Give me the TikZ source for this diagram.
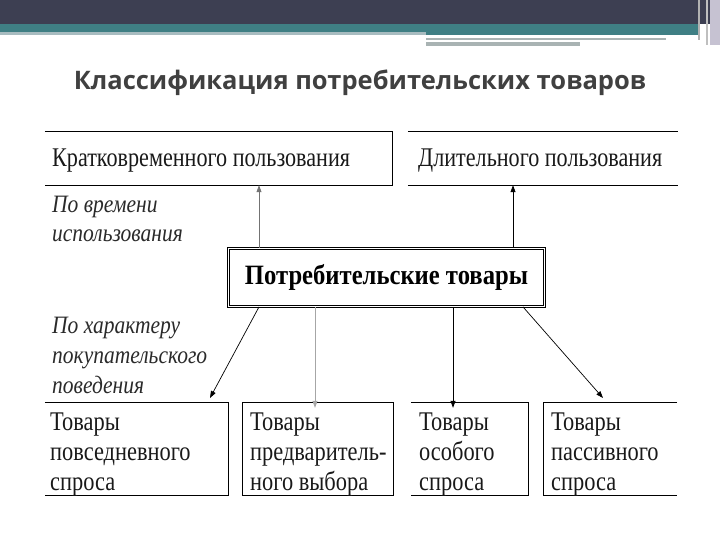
\documentclass[tikz,border=0pt]{standalone}
\usepackage{fontspec}
\setmainfont{Liberation Serif}
\newfontfamily\titlef{Open Sans}
\newfontfamily\bodyf[FakeStretch=0.82]{Liberation Serif}
\newfontfamily\lowf[FakeStretch=0.83]{Liberation Serif}
\newfontfamily\boldf[FakeStretch=0.88]{Liberation Serif}
\newfontfamily\itf[FakeStretch=0.86]{Liberation Serif}
\usetikzlibrary{arrows.meta}
\definecolor{barDark}{HTML}{3D3F52}
\definecolor{barTeal}{HTML}{3F7F84}
\definecolor{barLine}{HTML}{A8BCC0}
\definecolor{barGrey}{HTML}{A9B3B3}
\definecolor{barLav}{HTML}{C6C2D2}
\definecolor{titleC}{HTML}{404040}
\definecolor{labC}{HTML}{2A2A2A}
\tikzset{
  border/.style={line width=1pt, draw=black},
  boxtext/.style={anchor=base west, inner sep=0pt, font=\bodyf\fontsize{27}{30}\selectfont, text=black!90},
  lowtext/.style={anchor=base west, inner sep=0pt, font=\lowf\fontsize{27}{30}\selectfont, text=black!90},
  labtext/.style={anchor=base west, inner sep=0pt, font=\itf\itshape\fontsize{25}{30}\selectfont, text=labC},
  arr/.style={line width=0.7pt, -{Triangle[length=7pt,width=5pt]}},
  greyarr/.style={arr, draw=black!35},
  area/.style={inner sep=0pt, draw=none}
}
\begin{document}
\begin{tikzpicture}[x=1pt,y=-1pt]
\useasboundingbox (0,0) rectangle (720,540);
% top decoration
\fill[barDark] (0,0) rectangle (720,24);
\fill[barTeal] (0,24) rectangle (426,32);
\fill[barTeal] (426,24) rectangle (700,35);
\fill[barLine] (0,32) rectangle (426,35);
\fill[barGrey] (426,38) rectangle (666,40.5);
\fill[barGrey] (426,42) rectangle (580,46);
\fill[barLav] (710,0) rectangle (720,45);
\fill[black!30] (698,0) rectangle (700,40);
\fill[black!25] (706,0) rectangle (708,45);
% title
\node[inner sep=0pt, anchor=base, text=titleC, font=\titlef\bfseries\fontsize{25.5}{30}\selectfont] (title) at (360,90) {Классификация потребительских товаров};

% top boxes
\node[area, minimum width=347pt, minimum height=53pt] (k) at (218.5,158.5) {};
\draw[border] (k.north west) -- (k.north east) -- (k.south east) -- (k.south west);
\node[boxtext] (kt) at (52,167) {Кратковременного пользования};
\node[area, minimum width=270pt, minimum height=53pt] (d) at (543,158.5) {};
\draw[border] (d.north west) -- (d.north east);
\draw[border] (d.south west) -- (d.south east);
\node[boxtext] (dt) at (418,167) {Длительного пользования};

% labels
\node[labtext] (l1) at (52,212) {По времени};
\node[labtext] (l2) at (52,241) {использования};
\node[labtext] (l3) at (52,333) {По характеру};
\node[labtext] (l4) at (52,363) {покупательского};
\node[labtext] (l5) at (52,393) {поведения};

% central
\node[draw=black, double=white, double distance=1.8pt, line width=0.8pt, minimum width=316pt, minimum height=58pt, inner sep=0pt,
      font=\boldf\bfseries\fontsize{28}{30}\selectfont] (c) at (386.5,277.5) {\raisebox{-2pt}{Потребительские товары}};

% bottom boxes
\node[area, minimum width=183pt, minimum height=92pt] (ba) at (136.5,449) {};
\draw[border] (ba.north west) -- (ba.north east) -- (ba.south east) -- (ba.south west);
\node[area, minimum width=150pt, minimum height=92pt] (bb) at (318,449) {};
\draw[border] (bb.north west) rectangle (bb.south east);
\node[area, minimum width=117pt, minimum height=92pt] (bc) at (469.5,449) {};
\draw[border] (bc.north west) -- (bc.north east) -- (bc.south east) -- (bc.south west);
\node[area, minimum width=133pt, minimum height=92pt] (bd) at (610.5,449) {};
\draw[border] (bd.north east) -- (bd.north west) -- (bd.south west) -- (bd.south east);

\node[lowtext] (ta1) at (50,430) {Товары};
\node[lowtext] (ta2) at (50,460) {повседневного};
\node[lowtext] (ta3) at (50,490) {спроса};
\node[lowtext] (tb1) at (250,430) {Товары};
\node[lowtext] (tb2) at (250,460) {предваритель-};
\node[lowtext] (tb3) at (250,490) {ного выбора};
\node[lowtext] (tc1) at (419,430) {Товары};
\node[lowtext] (tc2) at (419,460) {особого};
\node[lowtext] (tc3) at (419,490) {спроса};
\node[lowtext] (td1) at (551,430) {Товары};
\node[lowtext] (td2) at (551,460) {пассивного};
\node[lowtext] (td3) at (551,490) {спроса};

% connectors
\coordinate (x1) at (259,0);
\coordinate (x2) at (513,0);
\coordinate (x3) at (315,0);
\coordinate (x4) at (453,0);
\coordinate (x5) at (523,0);
\coordinate (tipa) at (210,398);
\coordinate (tipd) at (603,398);
\draw[arr, draw=black!55] (c.north -| x1) -- (k.south -| x1);
\draw[arr] (c.north -| x2) -- (d.south -| x2);
\draw[arr] (c.south -| x1) -- (tipa);
\draw[greyarr] (c.south -| x3) -- ([yshift=-5pt]bb.north -| x3);
\draw[arr] (c.south -| x4) -- ([yshift=-5pt]bc.north -| x4);
\draw[arr] (c.south -| x5) -- (tipd);
\end{tikzpicture}
\end{document}
